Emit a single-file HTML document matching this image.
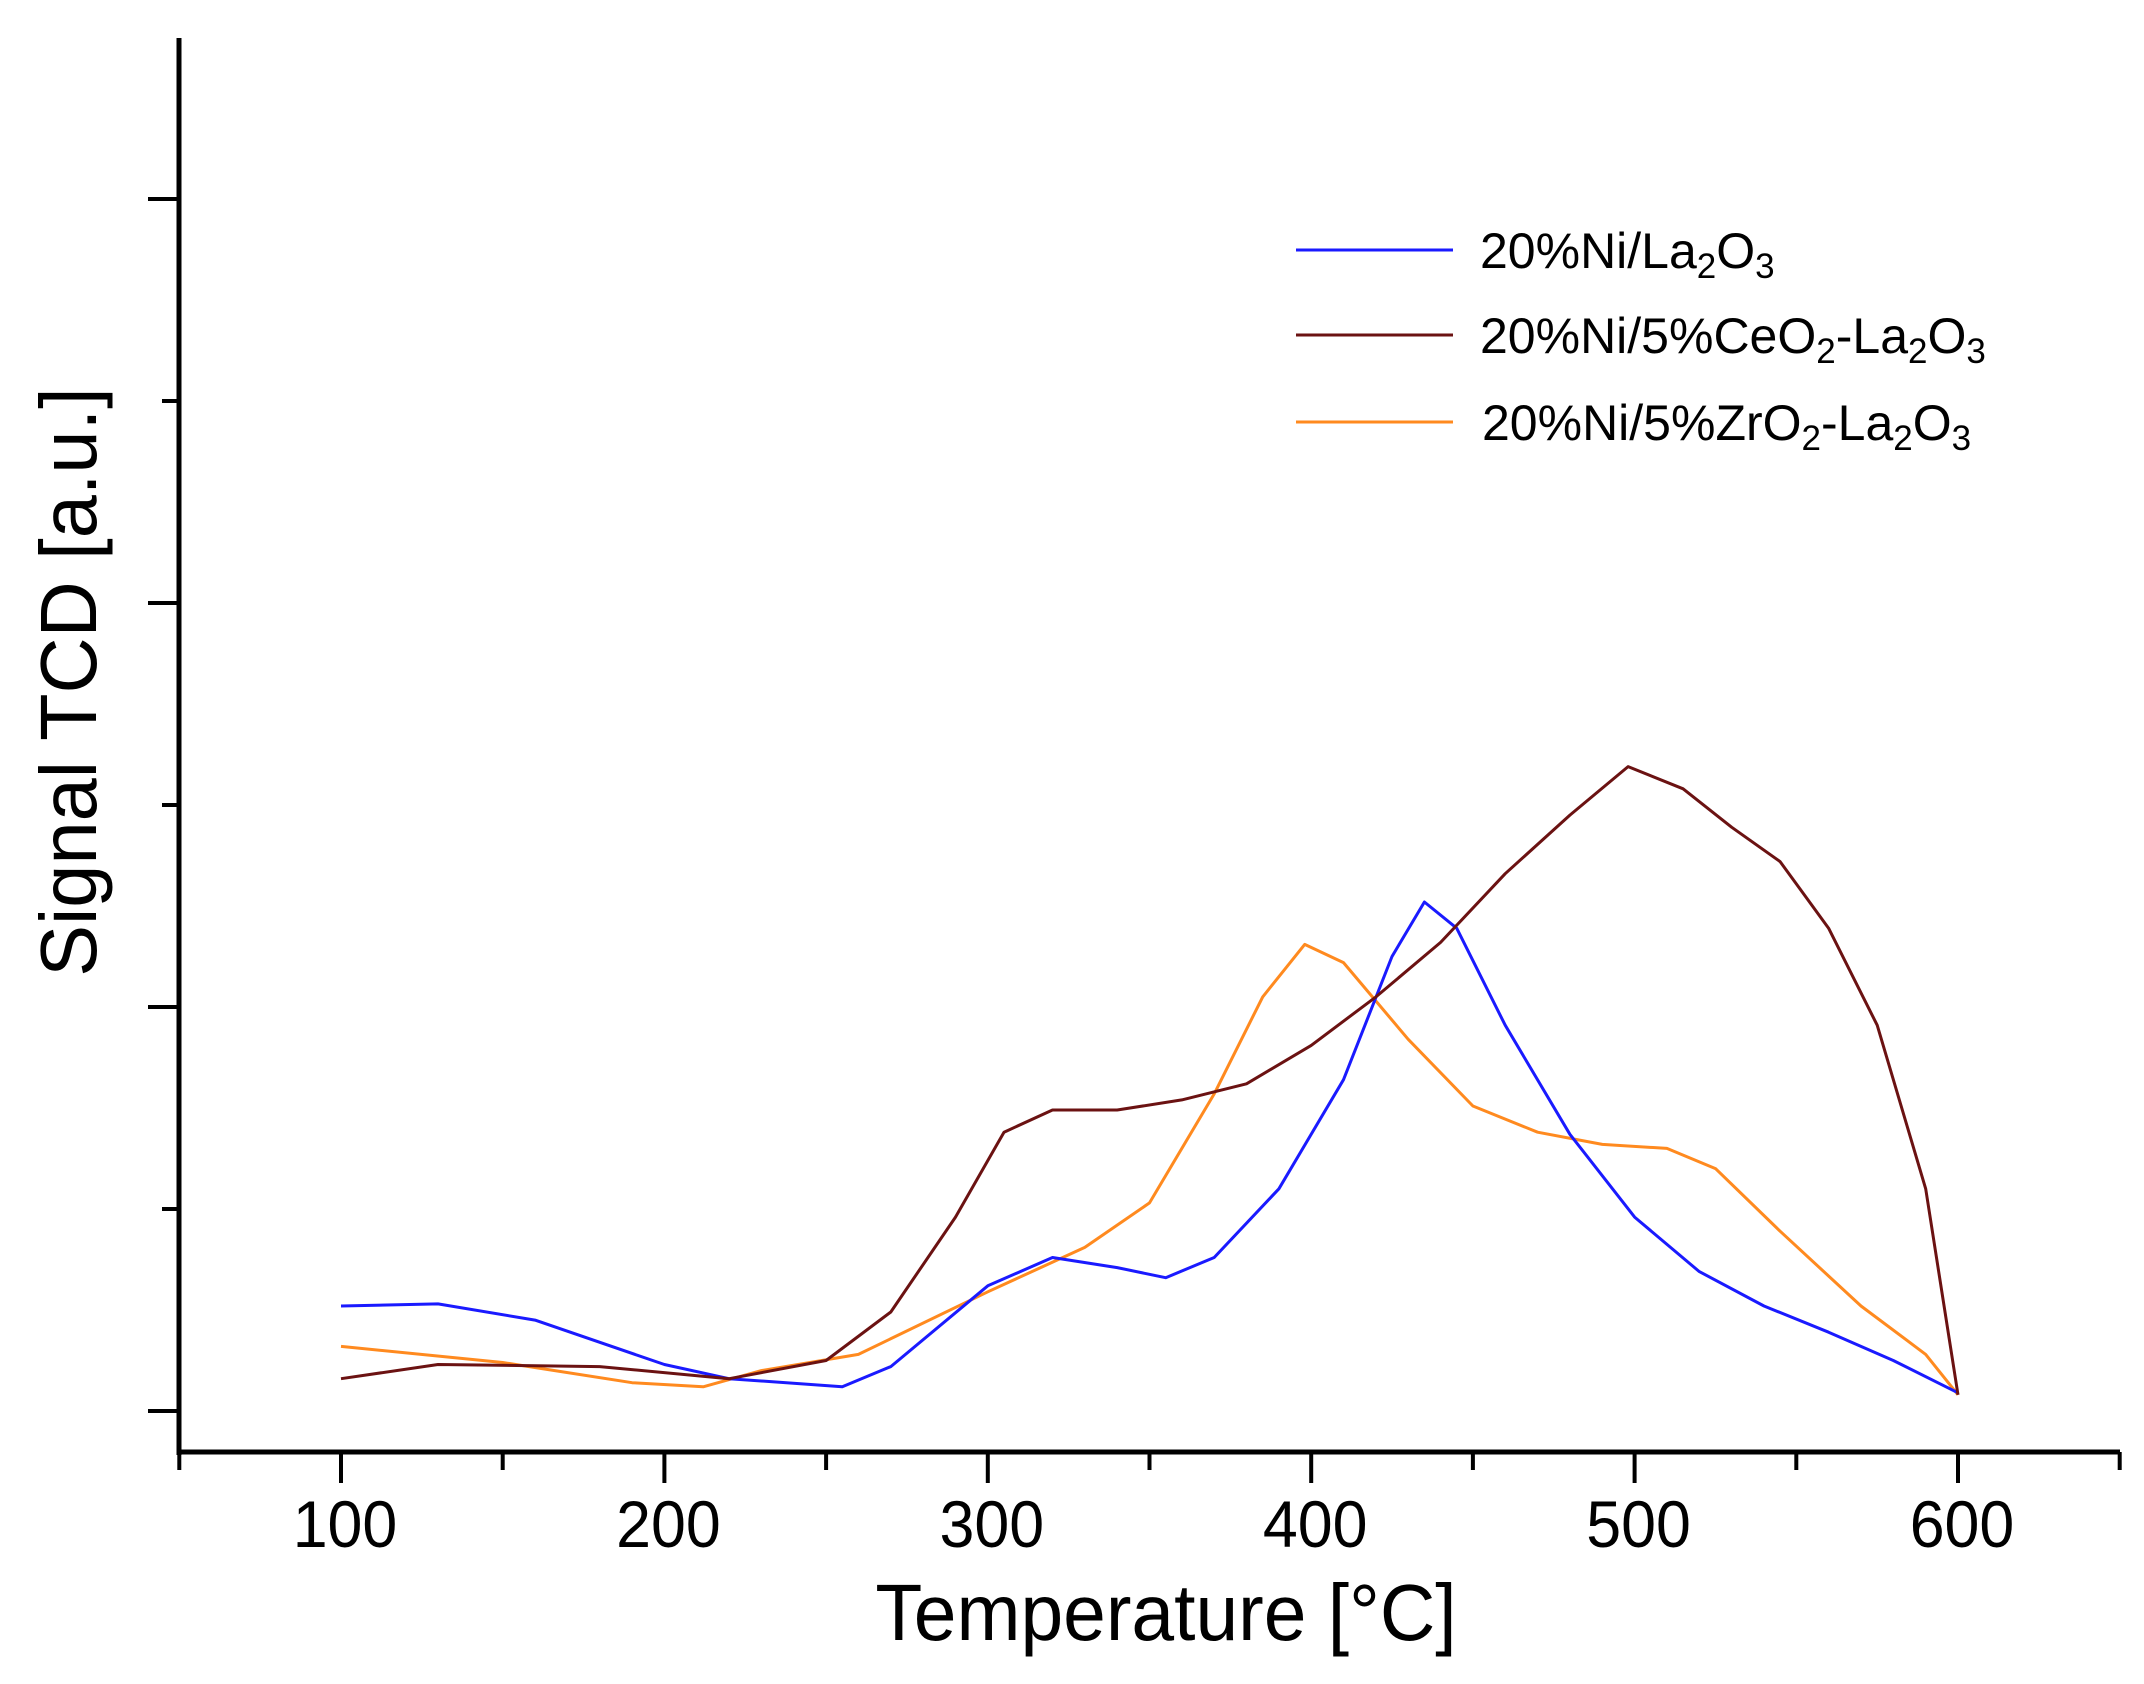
<!DOCTYPE html>
<html><head><meta charset="utf-8"><style>
html,body{margin:0;padding:0;background:#fff}
svg{display:block}
text{font-family:"Liberation Sans",sans-serif}
</style></head><body>
<svg id="chart" width="2144" height="1684" viewBox="0 0 2144 1684" xmlns="http://www.w3.org/2000/svg">
<g id="axes"></g>
<g id="series"></g>
<text x="1166" y="1640" font-size="80" text-anchor="middle" transform="translate(1166 0) scale(0.96 1) translate(-1166 0)">Temperature [°C]</text>
<text x="0" y="0" font-size="80" text-anchor="middle" transform="translate(96 682) rotate(-90) scale(0.97 1)">Signal TCD [a.u.]</text>
<g font-size="50">
 <g>
  <line x1="1296" y1="250" x2="1453" y2="250" stroke="#1a1aff" stroke-width="3"/>
  <text x="1480" y="268">20%Ni/La<tspan font-size="35" dy="10">2</tspan><tspan dy="-10">O</tspan><tspan font-size="35" dy="10">3</tspan></text>
 </g>
 <g>
  <line x1="1296" y1="335" x2="1453" y2="335" stroke="#6b1212" stroke-width="3"/>
  <text x="1480" y="353">20%Ni/5%CeO<tspan font-size="35" dy="10">2</tspan><tspan dy="-10">-La</tspan><tspan font-size="35" dy="10">2</tspan><tspan dy="-10">O</tspan><tspan font-size="35" dy="10">3</tspan></text>
 </g>
 <g>
  <line x1="1296" y1="422" x2="1453" y2="422" stroke="#ff8a1f" stroke-width="3"/>
  <text x="1482" y="440">20%Ni/5%ZrO<tspan font-size="35" dy="10">2</tspan><tspan dy="-10">-La</tspan><tspan font-size="35" dy="10">2</tspan><tspan dy="-10">O</tspan><tspan font-size="35" dy="10">3</tspan></text>
 </g>
</g>
</svg>
<script>
const xTicks = [100, 200, 300, 400, 500, 600];
const blueT = [100,130,160,200,220,255,270,300,320,340,355,370,390,410,425,435,445,460,480,500,520,540,560,580,600];
const blueV = [0.52,0.53,0.45,0.23,0.16,0.12,0.22,0.62,0.76,0.71,0.66,0.76,1.10,1.64,2.25,2.52,2.39,1.91,1.37,0.96,0.69,0.52,0.39,0.25,0.09];
const brownT = [100,130,180,220,250,270,290,305,320,340,360,380,400,420,440,460,480,498,515,530,545,560,575,590,600];
const brownV = [0.16,0.23,0.22,0.16,0.25,0.49,0.96,1.38,1.49,1.49,1.54,1.62,1.81,2.05,2.32,2.66,2.95,3.19,3.08,2.89,2.72,2.39,1.91,1.10,0.08];
const orangeT = [100,150,190,212,230,260,300,330,350,370,385,398,410,430,450,470,490,510,525,545,570,590,600];
const orangeV = [0.32,0.24,0.14,0.12,0.20,0.28,0.59,0.81,1.03,1.57,2.05,2.31,2.22,1.84,1.51,1.38,1.32,1.30,1.20,0.89,0.52,0.28,0.08];

const NS = "http://www.w3.org/2000/svg";
const xS = t => 341 + (t - 100) * 3.234;
const yS = v => 1411 - v * 202;
function mk(tag, attrs, parent){ const e=document.createElementNS(NS,tag); for(const k in attrs) e.setAttribute(k,attrs[k]); parent.appendChild(e); return e; }
const axes = document.getElementById('axes');
const ya = mk('line',{x1:179,y1:38,x2:179,y2:1455,stroke:'#000','stroke-width':5},axes);


const xa = mk('line',{x1:177,y1:1452,x2:2120,y2:1452,stroke:'#000','stroke-width':5},axes);


for(let i=0;i<=6;i++){
  const y = yS(i);
  const len = i%2===0 ? 31 : 17;
  const t = mk('line',{x1:179-len,y1:y,x2:179,y2:y,stroke:'#000','stroke-width':4},axes);
  
  
}
for(let T=50;T<=650;T+=50){
  const x = xS(T);
  const major = T%100===0;
  const t = mk('line',{x1:x,y1:1452,x2:x,y2:major?1483:1470,stroke:'#000','stroke-width':4},axes);
  
  
}
xTicks.forEach(T=>{
  const x = xS(T)+4;
  const tx = mk('text',{x:x,y:1547,'font-size':66,'text-anchor':'middle',transform:`translate(${x} 0) scale(0.95 1) translate(${-x} 0)`},axes);
  tx.textContent = T;
  
  
});
const series = document.getElementById('series');
function draw(T,V,color,name){
  const d = T.map((t,i)=>(i?'L':'M')+xS(t).toFixed(1)+' '+yS(V[i]).toFixed(1)).join(' ');
  const p = mk('path',{d:d,fill:'none',stroke:color,'stroke-width':3,'stroke-linejoin':'round'},series);
  
  
}
draw(orangeT,orangeV,'#ff8a1f','line-zro2-la2o3');
draw(blueT,blueV,'#1a1aff','line-la2o3');
draw(brownT,brownV,'#6b1212','line-ceo2-la2o3');
</script>
</body></html>
